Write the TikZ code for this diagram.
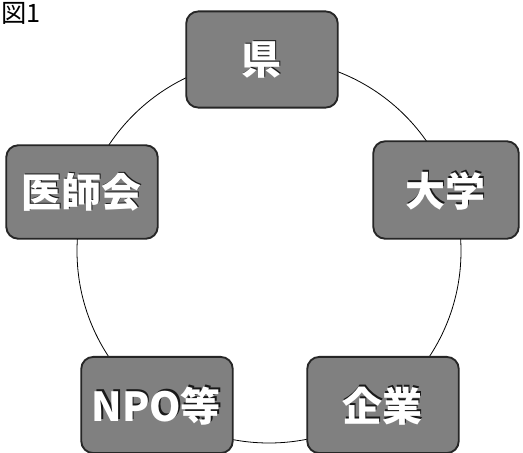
\documentclass[tikz,border=0pt]{standalone}
\usepackage{fontspec}
\newfontfamily\cjk{Noto Sans CJK JP}
\tikzset{
  x=0.75pt, y=-0.75pt,
  orgbox/.style={draw=black!85, line width=1.4pt, fill=black!50, rounded corners=9pt,
     minimum width=#1, inner sep=0pt, font=\cjk\bfseries\fontsize{30}{32}\selectfont, text=white},
  ring/.style={draw=black, line width=0.6pt},
  title/.style={font=\cjk\fontsize{19}{21}\selectfont, inner sep=0pt}
}
\newcommand{\shlabel}[1]{\tikz[baseline]{\node[inner sep=0pt,text=black!90,anchor=base] at (1.5,-1.5) {#1};\node[inner sep=0pt,text=white,anchor=base] at (0,0) {#1};}}
\begin{document}
\begin{tikzpicture}
\useasboundingbox (0,0) rectangle (523,452);
\fill[white] (0,0) rectangle (523,452);
\coordinate (c) at (269,251);
\draw[ring] (c) circle[radius=192*0.75pt];
\node[title, anchor=base west] (t) at (1,23) {図1};
\node[orgbox=112.5pt, minimum height=71pt] (ken) at (262,59.5) {\shlabel{県}};
\node[orgbox=108pt, minimum height=72pt] (dai) at (446,190) {\shlabel{大学}};
\node[orgbox=112.5pt, minimum height=69pt] (ishi) at (82,192) {\shlabel{医師会}};
\node[orgbox=112.5pt, minimum height=71pt] (npo) at (157,405) {\shlabel{NPO等}};
\node[orgbox=112.5pt, minimum height=71pt] (kig) at (383,405) {\shlabel{企業}};
\end{tikzpicture}
\end{document}
